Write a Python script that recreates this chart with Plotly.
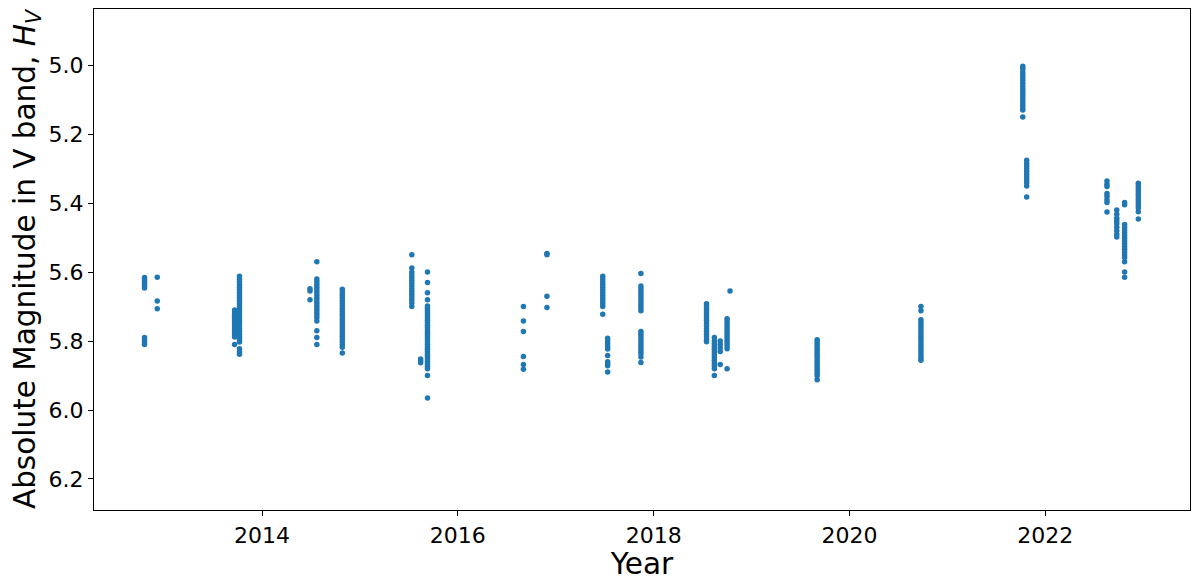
import plotly.graph_objects as go

# Observation epochs (decimal year) and absolute magnitudes H_V measured at each epoch
epoch_years = [2012.80, 2012.93, 2013.72, 2013.77, 2014.49, 2014.56, 2014.82, 2015.53,
               2015.62, 2015.69, 2016.67, 2016.91, 2017.48, 2017.53, 2017.87, 2018.54,
               2018.62, 2018.68, 2018.75, 2018.78, 2019.67, 2020.73, 2021.77, 2021.81,
               2022.63, 2022.73, 2022.81, 2022.95]

mag_2012a = [5.616, 5.622, 5.628, 5.634, 5.640, 5.646, 5.790, 5.797, 5.803, 5.810]
mag_2012b = [5.615, 5.684, 5.706]
mag_2013a = [5.710, 5.716, 5.722, 5.728, 5.734, 5.740, 5.746, 5.752, 5.758, 5.764,
             5.770, 5.776, 5.782, 5.788, 5.810]
mag_2013b = [5.612, 5.620, 5.628, 5.636, 5.644, 5.652, 5.660, 5.668, 5.676, 5.684,
             5.692, 5.700, 5.708, 5.716, 5.724, 5.732, 5.740, 5.748, 5.756, 5.764,
             5.772, 5.780, 5.788, 5.796, 5.803, 5.822, 5.832, 5.838]
mag_2014a = [5.648, 5.655, 5.680]
mag_2014b = [5.570, 5.620, 5.628, 5.636, 5.644, 5.652, 5.660, 5.668, 5.676, 5.684,
             5.692, 5.700, 5.708, 5.716, 5.724, 5.732, 5.742, 5.770, 5.790, 5.810]
mag_2014c = [5.650, 5.658, 5.666, 5.674, 5.682, 5.690, 5.698, 5.706, 5.714, 5.722,
             5.730, 5.738, 5.746, 5.754, 5.762, 5.770, 5.778, 5.786, 5.794, 5.802,
             5.810, 5.818, 5.835]
mag_2015a = [5.550, 5.588, 5.600, 5.608, 5.616, 5.624, 5.632, 5.640, 5.648, 5.656,
             5.664, 5.672, 5.680, 5.690, 5.700]
mag_2015b = [5.852, 5.858, 5.863]
mag_2015c = [5.600, 5.630, 5.660, 5.680, 5.698, 5.705, 5.712, 5.719, 5.726, 5.733,
             5.740, 5.747, 5.754, 5.761, 5.768, 5.775, 5.782, 5.789, 5.796, 5.803,
             5.810, 5.817, 5.824, 5.831, 5.838, 5.845, 5.852, 5.859, 5.866, 5.873,
             5.880, 5.900, 5.965]
mag_2016a = [5.700, 5.742, 5.772, 5.845, 5.868, 5.882]
mag_2016b = [5.546, 5.550, 5.670, 5.703]
mag_2017a = [5.612, 5.620, 5.628, 5.636, 5.644, 5.652, 5.660, 5.668, 5.676, 5.684,
             5.692, 5.700, 5.722]
mag_2017b = [5.792, 5.800, 5.808, 5.816, 5.823, 5.842, 5.860, 5.866, 5.872, 5.890]
mag_2017c = [5.604, 5.640, 5.648, 5.656, 5.664, 5.672, 5.680, 5.688, 5.696, 5.704,
             5.712, 5.772, 5.780, 5.788, 5.796, 5.804, 5.812, 5.820, 5.828, 5.836,
             5.846, 5.862]
mag_2018a = [5.692, 5.700, 5.708, 5.716, 5.724, 5.732, 5.740, 5.748, 5.756, 5.764,
             5.772, 5.780, 5.788, 5.796, 5.802]
mag_2018b = [5.790, 5.800, 5.808, 5.816, 5.824, 5.832, 5.840, 5.848, 5.856, 5.864,
             5.872, 5.880, 5.900]
mag_2018c = [5.800, 5.810, 5.820, 5.830, 5.868]
mag_2018d = [5.735, 5.742, 5.750, 5.758, 5.766, 5.774, 5.782, 5.790, 5.798, 5.806,
             5.814, 5.822, 5.880]
mag_2018e = [5.655]
mag_2019 = [5.796, 5.803, 5.810, 5.817, 5.824, 5.831, 5.838, 5.845, 5.852, 5.859,
            5.866, 5.873, 5.880, 5.887, 5.894, 5.901, 5.912]
mag_2020 = [5.700, 5.712, 5.738, 5.746, 5.754, 5.762, 5.770, 5.778, 5.786, 5.794,
            5.802, 5.810, 5.818, 5.826, 5.834, 5.842, 5.850, 5.856]
mag_2021a = [5.003, 5.010, 5.020, 5.028, 5.036, 5.044, 5.052, 5.060, 5.068, 5.076,
             5.084, 5.092, 5.100, 5.108, 5.116, 5.124, 5.130, 5.150]
mag_2021b = [5.276, 5.284, 5.292, 5.300, 5.308, 5.316, 5.324, 5.332, 5.340, 5.350, 5.382]
mag_2022a = [5.336, 5.345, 5.352, 5.372, 5.380, 5.390, 5.398, 5.426]
mag_2022b = [5.420, 5.432, 5.444, 5.452, 5.460, 5.470, 5.480, 5.490, 5.498]
mag_2022c = [5.398, 5.405, 5.462, 5.470, 5.478, 5.486, 5.494, 5.502, 5.510, 5.518,
             5.526, 5.534, 5.542, 5.550, 5.558, 5.570, 5.600, 5.615]
mag_2022d = [5.342, 5.350, 5.358, 5.366, 5.374, 5.382, 5.390, 5.398, 5.406, 5.414,
             5.425, 5.446]

epoch_mags = [mag_2012a, mag_2012b, mag_2013a, mag_2013b, mag_2014a, mag_2014b, mag_2014c,
              mag_2015a, mag_2015b, mag_2015c, mag_2016a, mag_2016b, mag_2017a, mag_2017b,
              mag_2017c, mag_2018a, mag_2018b, mag_2018c, mag_2018d, mag_2018e, mag_2019,
              mag_2020, mag_2021a, mag_2021b, mag_2022a, mag_2022b, mag_2022c, mag_2022d]

x_tick_vals = [2014, 2016, 2018, 2020, 2022]
y_tick_vals = [5.0, 5.2, 5.4, 5.6, 5.8, 6.0, 6.2]

xs, ys = [], []
for yr, mags in zip(epoch_years, epoch_mags):
    xs.extend([yr] * len(mags))
    ys.extend(mags)

fig = go.Figure(go.Scatter(
    x=xs, y=ys, mode="markers",
    marker=dict(color="#1f77b4", size=5.5, line=dict(width=0)),
    showlegend=False,
))

font_family = "DejaVu Sans"
fig.update_layout(
    width=1192, height=576,
    margin=dict(l=86, r=10, t=1, b=74),
    paper_bgcolor="white", plot_bgcolor="white",
    font=dict(family=font_family, color="black", size=22),
)
fig.update_xaxes(
    range=[2012.284, 2023.478],
    tickvals=x_tick_vals, ticktext=[str(v) for v in x_tick_vals],
    ticks="outside", ticklen=5, tickwidth=1, tickcolor="black",
    showline=True, linecolor="black", linewidth=1.2, mirror=True,
    showgrid=False, zeroline=False,
    tickfont=dict(size=22),
    title=dict(text="Year", font=dict(size=29.5), standoff=6),
)
fig.update_yaxes(
    range=[6.29, 4.837],
    tickvals=y_tick_vals, ticktext=[f"{v:.1f}" for v in y_tick_vals],
    ticks="outside", ticklen=5, tickwidth=1, tickcolor="black",
    showline=True, linecolor="black", linewidth=1.2, mirror=True,
    showgrid=False, zeroline=False,
    tickfont=dict(size=22),
    title=dict(text="Absolute Magnitude in V band, <i>H<sub>V</sub></i>",
               font=dict(size=29.5), standoff=8),
)

fig.write_html("out.html")
